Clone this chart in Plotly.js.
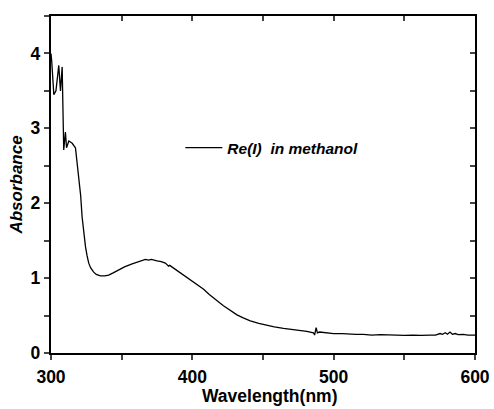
<!DOCTYPE html>
<html>
<head>
<meta charset="utf-8">
<script src="https://cdn.plot.ly/plotly-3.0.1.min.js"></script>
<style>html,body{margin:0;padding:0;background:#fff;}#chart{width:494px;height:409px;}</style>
</head>
<body>
<div id="chart"></div>
<script>
const seriesName = "Re(I)\u00a0 in methanol";
const xTitle = "Wavelength(nm)";
const yTitle = "Absorbance";
const wavelength = [300, 300.5, 302, 303.5, 305.5, 306.7, 307.9, 309, 310.2, 311, 312.6, 315, 317.3, 318.5, 319.6, 321, 322, 323.2, 324.4, 325.5, 326.7, 328, 330.2, 332, 335, 338, 340.8, 344, 347.9, 352, 357.4, 362, 366.8, 369, 371, 375, 378, 380.9, 383.2, 384, 387, 391.5, 395, 398.6, 403, 408, 412, 415, 418, 422, 427, 431.6, 436, 441, 447, 452.8, 458, 464.5, 470, 476.3, 481, 485.7, 486.5, 487.6, 488.5, 490, 495, 500, 506, 511.7, 516, 521, 527, 533, 539, 544.7, 550, 556, 562, 568.2, 572, 575.3, 577, 579, 580.5, 582.3, 584, 586, 588, 591.7, 595, 598.8, 600];
const absorbance = [4.0, 3.9, 3.45, 3.5, 3.84, 3.5, 3.82, 2.71, 2.95, 2.74, 2.83, 2.8, 2.74, 2.55, 2.31, 2.1, 1.82, 1.6, 1.42, 1.3, 1.2, 1.14, 1.08, 1.05, 1.03, 1.03, 1.04, 1.07, 1.11, 1.15, 1.19, 1.22, 1.25, 1.24, 1.25, 1.23, 1.22, 1.2, 1.16, 1.17, 1.13, 1.08, 1.03, 0.98, 0.92, 0.85, 0.78, 0.73, 0.69, 0.63, 0.57, 0.51, 0.47, 0.43, 0.395, 0.37, 0.35, 0.33, 0.32, 0.30, 0.29, 0.27, 0.24, 0.34, 0.27, 0.28, 0.27, 0.26, 0.26, 0.25, 0.25, 0.25, 0.24, 0.245, 0.24, 0.24, 0.235, 0.24, 0.235, 0.24, 0.24, 0.26, 0.25, 0.27, 0.25, 0.28, 0.25, 0.26, 0.245, 0.25, 0.24, 0.24, 0.24];
const xTickVals = [300, 400, 500, 600];
const yTickVals = [0, 1, 2, 3, 4];

const font = {family: "Liberation Sans, Arial, sans-serif", color: "#000"};
const tickFont = Object.assign({}, font, {size: 17.5, weight: "bold"});

const traces = [
  {x: wavelength, y: absorbance, type: "scatter", mode: "lines", name: seriesName,
   line: {color: "#000", width: 1.3}},
  {x: [], y: [], xaxis: "x2", yaxis: "y2", type: "scatter", mode: "lines", showlegend: false, hoverinfo: "skip"}
];

const layout = {
  width: 494, height: 409,
  margin: {l: 50.5, r: 19, t: 16, b: 56},
  paper_bgcolor: "#fff", plot_bgcolor: "#fff",
  showlegend: true,
  legend: {x: 0.305, y: 0.608, xanchor: "left", yanchor: "middle", bgcolor: "rgba(0,0,0,0)", itemwidth: 37,
           font: Object.assign({}, font, {size: 15.5, weight: "bold", style: "italic"})},
  annotations: [
    {text: xTitle, xref: "paper", yref: "paper", x: 0.516, y: -0.127, xanchor: "center", yanchor: "middle",
     showarrow: false, font: Object.assign({}, font, {size: 17.5, weight: "bold"})}
  ],
  xaxis: {range: [300, 600], tickvals: xTickVals, ticktext: xTickVals.map(String), ticks: "outside", ticklen: 5, tickwidth: 2,
          ticklabelstandoff: 2,
          minor: {dtick: 50, tick0: 300, ticks: "outside", ticklen: 5, tickwidth: 2, showgrid: false},
          showline: true, linewidth: 2.2, linecolor: "#000", showgrid: false, zeroline: false,
          tickfont: tickFont},
  yaxis: {range: [0, 4.5], tickvals: yTickVals, ticktext: yTickVals.map(String), ticks: "outside", ticklen: 5, tickwidth: 2,
          minor: {dtick: 0.5, tick0: 0, ticks: "outside", ticklen: 5, tickwidth: 2, showgrid: false},
          showline: true, linewidth: 2.2, linecolor: "#000", showgrid: false, zeroline: false,
          tickfont: tickFont,
          title: {text: yTitle, font: Object.assign({}, font, {size: 17, weight: "bold", style: "italic"}), standoff: 4}},
  xaxis2: {range: [300, 600], overlaying: "x", side: "top", anchor: "y2", dtick: 50, tick0: 300, ticks: "inside", ticklen: 5, tickwidth: 2,
           showticklabels: false, showline: true, linewidth: 2.2, linecolor: "#000", showgrid: false, zeroline: false},
  yaxis2: {range: [0, 4.5], overlaying: "y", side: "right", anchor: "x2", dtick: 0.5, tick0: 0, ticks: "inside", ticklen: 5, tickwidth: 2,
           showticklabels: false, showline: true, linewidth: 2.2, linecolor: "#000", showgrid: false, zeroline: false}
};

Plotly.newPlot("chart", traces, layout, {displayModeBar: false, staticPlot: true});
</script>
</body>
</html>
